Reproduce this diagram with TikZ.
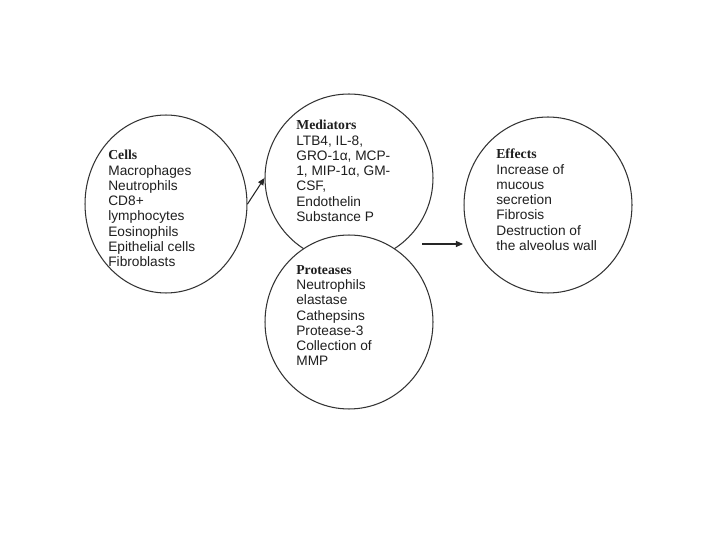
\documentclass[tikz,border=0pt]{standalone}
\usepackage{fontspec}
\setmainfont{Liberation Sans}
\newfontfamily\headfont{Liberation Serif}
\usetikzlibrary{shapes.geometric,arrows.meta}
\begin{document}
\begin{tikzpicture}[x=0.02cm,y=-0.02cm,
  bubble/.style={ellipse, draw=black!80, line width=0.6pt, fill=white, inner sep=0pt},
  txt/.style={anchor=north west, align=left, inner sep=0pt,
    font=\fontsize{7.8}{8.68}\selectfont, text=black!88},
  conn/.style={draw=black!85, line width=0.6pt, -{Triangle[length=4pt,width=3.4pt]}}]
\useasboundingbox (0,0) rectangle (720,540);
\node[bubble, minimum width=3.24cm, minimum height=3.56cm] (cells) at (166,204) {};
\node[bubble, minimum width=3.36cm, minimum height=3.36cm] (med) at (349,178) {};
\node[bubble, minimum width=3.36cm, minimum height=3.48cm] (prot) at (349,322) {};
\node[bubble, minimum width=3.36cm, minimum height=3.52cm] (eff) at (548,205) {};
\node[txt] (tcells) at (108,150) {{\headfont\bfseries Cells}\\Macrophages\\Neutrophils\\CD8+\\lymphocytes\\Eosinophils\\Epithelial cells\\Fibroblasts};
\node[txt] (tmed) at (296,120) {{\headfont\bfseries Mediators}\\LTB4, IL-8,\\GRO-1α, MCP-\\1, MIP-1α, GM-\\CSF,\\Endothelin\\Substance P};
\node[txt] (tprot) at (296,265) {{\headfont\bfseries Proteases}\\Neutrophils\\elastase\\Cathepsins\\Protease-3\\Collection of\\MMP};
\node[txt] (teff) at (496,149) {{\headfont\bfseries Effects}\\Increase of\\mucous\\secretion\\Fibrosis\\Destruction of\\the alveolus wall};
\coordinate (a1) at (422,244);
\coordinate (a2) at (463,244);
\draw[conn] (cells.east) -- (med.west);
\draw[conn] (a1) -- (a2);
\end{tikzpicture}
\end{document}
